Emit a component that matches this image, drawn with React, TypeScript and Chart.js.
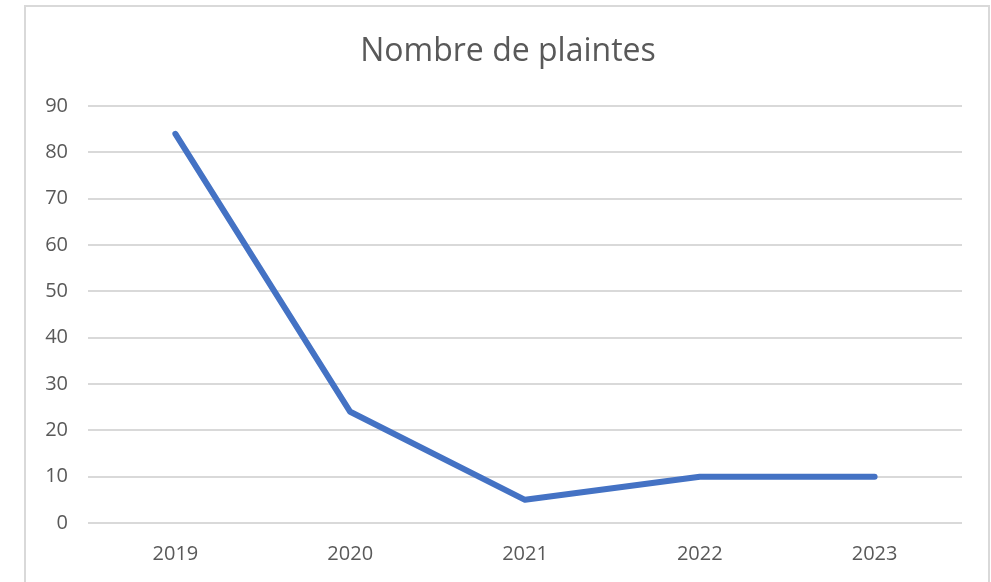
import React, { useEffect, useRef } from "react";
import { Chart, registerables } from "chart.js";

Chart.register(...registerables);

const categories = ["2019", "2020", "2021", "2022", "2023"];
const plaintes = [84, 24, 5, 10, 10];
const chartTitle = "Nombre de plaintes";
const yMin = 0;
const yMax = 90;
const yStep = 10;

const FONT = "'Open Sans', 'Noto Sans', sans-serif";
const TEXT = "#595959";
const GRID = "#d9d9d9";

export default function App() {
  const ref = useRef<HTMLCanvasElement | null>(null);

  useEffect(() => {
    if (!ref.current) return;
    const chart = new Chart(ref.current, {
      type: "line",
      data: {
        labels: categories,
        datasets: [
          {
            label: chartTitle,
            data: plaintes,
            borderColor: "#4472c4",
            backgroundColor: "#4472c4",
            borderWidth: 6,
            borderCapStyle: "round",
            borderJoinStyle: "round",
            pointRadius: 0,
            pointHoverRadius: 0,
            tension: 0,
            fill: false,
          },
        ],
      },
      options: {
        responsive: false,
        animation: false,
        layout: { padding: { left: 0, right: 29, top: 106, bottom: 0 } },
        plugins: {
          legend: { display: false },
          tooltip: { enabled: false },
          title: { display: false },
        },
        scales: {
          x: {
            offset: true,
            grid: { display: false, drawTicks: false },
            border: { display: false },
            ticks: {
              color: TEXT,
              font: { family: FONT, size: 20 },
              padding: 19,
              maxRotation: 0,
            },
            afterFit: (s: any) => {
              s.height = 59;
            },
          },
          y: {
            min: yMin,
            max: yMax,
            grid: { color: GRID, lineWidth: 2, drawTicks: false },
            border: { display: false },
            ticks: {
              stepSize: yStep,
              color: TEXT,
              font: { family: FONT, size: 20 },
              padding: 20,
            },
            afterFit: (s: any) => {
              s.width = 88;
            },
          },
        },
      },
    });
    return () => chart.destroy();
  }, []);

  return (
    <div
      style={{
        position: "fixed",
        left: 0,
        top: 0,
        width: 991,
        height: 582,
        background: "#fff",
        overflow: "hidden",
      }}
    >
      <div
        style={{
          position: "absolute",
          left: 24,
          top: 5,
          width: 966,
          height: 600,
          border: "2px solid #d9d9d9",
          boxSizing: "border-box",
        }}
      />
      <canvas
        ref={ref}
        width={991}
        height={582}
        style={{ position: "absolute", left: 0, top: 0, width: 991, height: 582 }}
      />
      <div
        style={{
          position: "absolute",
          left: 208,
          width: 600,
          top: 30,
          lineHeight: "38px",
          textAlign: "center",
          fontFamily: FONT,
          fontSize: 32,
          color: TEXT,
          whiteSpace: "nowrap",
        }}
      >
        {chartTitle}
      </div>
    </div>
  );
}
